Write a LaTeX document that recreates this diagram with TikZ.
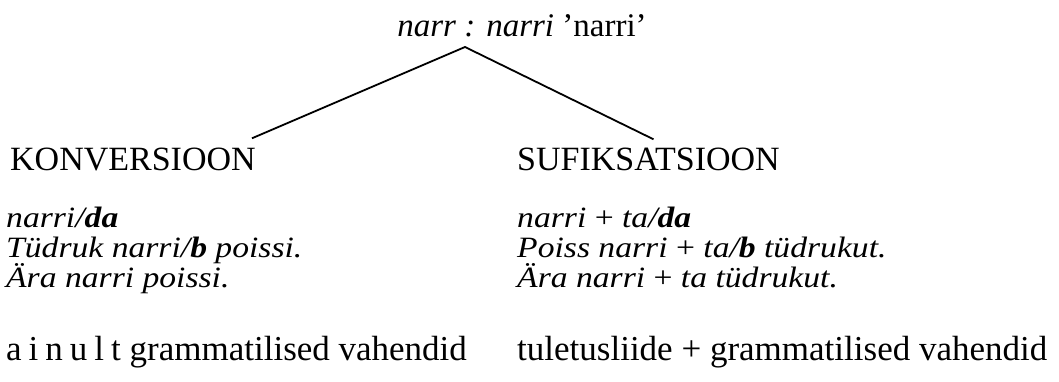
\documentclass[tikz,border=0pt]{standalone}
\usepackage{fontspec}
\setmainfont{Liberation Serif}
\newfontfamily\exfont[FakeStretch=1.14]{Liberation Serif}
\newcommand{\pl}{{\upshape +}}
\newcommand{\lsp}[1]{#1\hspace{.2em}}
\begin{document}
\begin{tikzpicture}[x=1pt,y=-1pt,
  txt/.style={inner sep=0pt, anchor=base west},
  top/.style={inner sep=0pt, anchor=base, font=\fontsize{33}{38}\selectfont},
  head/.style={txt, font=\fontsize{34}{38}\selectfont},
  ex/.style={txt, font=\exfont\fontsize{29.5}{30}\selectfont\itshape},
  note/.style={txt, font=\fontsize{35}{40}\selectfont},
  branch/.style={line width=1.8pt, line join=miter}]
\useasboundingbox (0,0) rectangle (1059,381);

% root of the tree
\node[top] (root) at (522,36) {\textit{narr : narri} ’narri’};
\coordinate (apex) at ([xshift=-57pt,yshift=-11pt]root.base);

% the two branches
\node[head] (konv) at (10,170) {KONVERSIOON};
\node[head] (suf)  at (517,170) {SUFIKSATSIOON};
\coordinate (lend) at ([xshift=-4pt,yshift=9pt]konv.north east);
\coordinate (rend) at ([xshift=5pt,yshift=8pt]suf.north);
\draw[branch] (lend) -- (apex) -- (rend);

% conversion examples
\node[ex] (k1) at (6,227) {narri/\textbf{da}};
\node[ex] (k2) at (6,257) {Tüdruk narri/\textbf{b} poissi.};
\node[ex] (k3) at (6,287) {Ära narri poissi.};

% suffixation examples
\node[ex] (s1) at (517,227) {narri \pl{} ta/\textbf{da}};
\node[ex] (s2) at (517,257) {Poiss narri \pl{} ta/\textbf{b} tüdrukut.};
\node[ex] (s3) at (517,287) {Ära narri \pl{} ta tüdrukut.};

% means used
\node[note] (kn) at (6,360) {\lsp{a}\lsp{i}\lsp{n}\lsp{u}\lsp{l}t grammatilised vahendid};
\node[note] (sn) at (517,360) {tuletusliide + grammatilised vahendid};
\end{tikzpicture}
\end{document}
